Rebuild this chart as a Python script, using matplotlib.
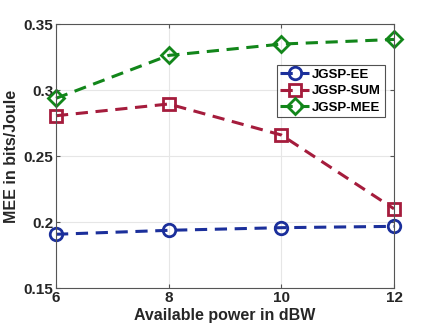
import matplotlib
matplotlib.use("Agg")
import matplotlib.pyplot as plt

# ── Data ─────────────────────────────────────────────────────────────────────
power_dbw = [6, 8, 10, 12]
mee_ee = [0.1907, 0.1937, 0.1957, 0.1967]
mee_sum = [0.2805, 0.2894, 0.2659, 0.2100]
mee_mee = [0.2937, 0.3262, 0.3348, 0.3383]
x_ticks = [6, 8, 10, 12]
y_ticks = [0.15, 0.2, 0.25, 0.3, 0.35]
y_tick_labels = ['0.15', '0.2', '0.25', '0.3', '0.35']

plt.rcParams['font.family'] = ['Liberation Sans', 'DejaVu Sans']
plt.rcParams['font.weight'] = 'bold'

fig = plt.figure(figsize=(4.36, 3.35), dpi=100)
ax = fig.add_axes([56 / 436, 1 - 288 / 335, (394 - 56) / 436, (288 - 24) / 335])

series = [
    (mee_ee, 'JGSP-EE', '#1B2F9B', 'o', 9),
    (mee_sum, 'JGSP-SUM', '#A51C3C', 's', 8),
    (mee_mee, 'JGSP-MEE', '#12861A', 'D', 8),
]
for vals, name, color, marker, ms in series:
    ax.plot(power_dbw, vals, linestyle=(0, (4, 2.5)), linewidth=2.2, color=color,
            marker=marker, markersize=ms, markerfacecolor='none',
            markeredgewidth=2.0, label=name, clip_on=False)

ax.set_xlim(6, 12)
ax.set_ylim(0.15, 0.35)
ax.set_xticks(x_ticks)
ax.set_yticks(y_ticks)
ax.set_yticklabels(y_tick_labels)
ax.tick_params(labelsize=11, direction='in', length=3, color='#555555',
               top=True, right=True, pad=2)
ax.grid(True, color='#e6e6e6', linewidth=0.8)
ax.set_axisbelow(True)
for sp in ax.spines.values():
    sp.set_color('#555555')
    sp.set_linewidth(0.8)

ax.set_xlabel('Available power in dBW', fontsize=11.5, fontweight='bold',
              color='#262626', labelpad=2)
ax.set_ylabel('MEE in bits/Joule', fontsize=11.5, fontweight='bold',
              color='#262626', labelpad=3)
for lbl in ax.get_xticklabels() + ax.get_yticklabels():
    lbl.set_color('#262626')

leg = ax.legend(loc='upper right', bbox_to_anchor=(0.985, 0.86), fontsize=9.5,
                frameon=True, fancybox=False, edgecolor='#262626',
                handlelength=2.2, handletextpad=0.2, borderpad=0.3,
                labelspacing=0.3, borderaxespad=0.3)
leg.get_frame().set_linewidth(0.8)

fig.savefig('out.png', dpi=100)
